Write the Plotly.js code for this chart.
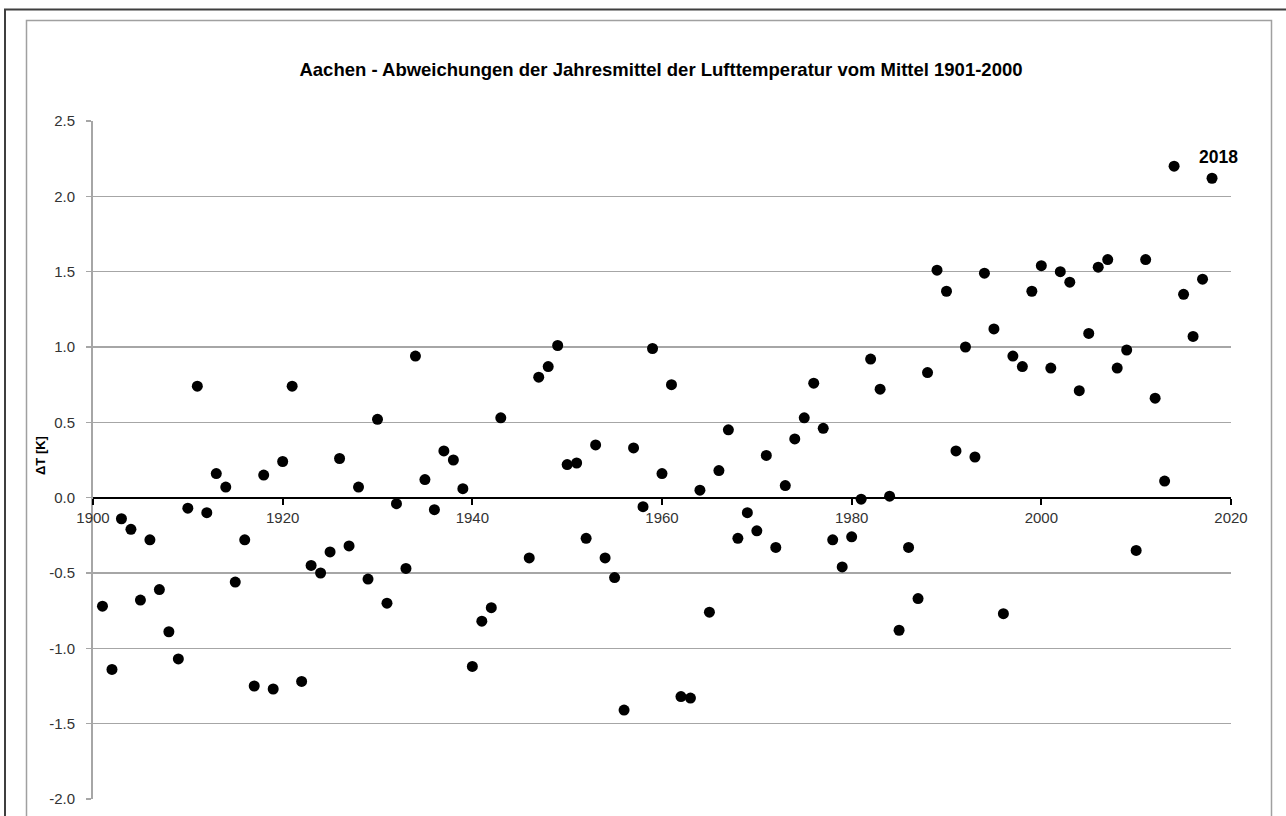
<!DOCTYPE html>
<html>
<head>
<meta charset="utf-8">
<script src="https://cdn.plot.ly/plotly-3.0.1.min.js"></script>
<style>
html,body{margin:0;padding:0;background:#fff;}
#chart{width:1286px;height:816px;}
</style>
</head>
<body>
<div id="chart"></div>
<script>
var years = [1901,1902,1903,1904,1905,1906,1907,1908,1909,1910,
  1911,1912,1913,1914,1915,1916,1917,1918,1919,1920,
  1921,1922,1923,1924,1925,1926,1927,1928,1929,1930,
  1931,1932,1933,1934,1935,1936,1937,1938,1939,1940,
  1941,1942,1943,1946,1947,1948,1949,1950,
  1951,1952,1953,1954,1955,1956,1957,1958,1959,1960,
  1961,1962,1963,1964,1965,1966,1967,1968,1969,1970,
  1971,1972,1973,1974,1975,1976,1977,1978,1979,1980,
  1981,1982,1983,1984,1985,1986,1987,1988,1989,1990,
  1991,1992,1993,1994,1995,1996,1997,1998,1999,2000,
  2001,2002,2003,2004,2005,2006,2007,2008,2009,2010,
  2011,2012,2013,2014,2015,2016,2017,2018];
var deltaT = [-0.72,-1.14,-0.14,-0.21,-0.68,-0.28,-0.61,-0.89,-1.07,-0.07,
  0.74,-0.10,0.16,0.07,-0.56,-0.28,-1.25,0.15,-1.27,0.24,
  0.74,-1.22,-0.45,-0.50,-0.36,0.26,-0.32,0.07,-0.54,0.52,
  -0.70,-0.04,-0.47,0.94,0.12,-0.08,0.31,0.25,0.06,-1.12,
  -0.82,-0.73,0.53,-0.40,0.80,0.87,1.01,0.22,
  0.23,-0.27,0.35,-0.40,-0.53,-1.41,0.33,-0.06,0.99,0.16,
  0.75,-1.32,-1.33,0.05,-0.76,0.18,0.45,-0.27,-0.10,-0.22,
  0.28,-0.33,0.08,0.39,0.53,0.76,0.46,-0.28,-0.46,-0.26,
  -0.01,0.92,0.72,0.01,-0.88,-0.33,-0.67,0.83,1.51,1.37,
  0.31,1.00,0.27,1.49,1.12,-0.77,0.94,0.87,1.37,1.54,
  0.86,1.50,1.43,0.71,1.09,1.53,1.58,0.86,0.98,-0.35,
  1.58,0.66,0.11,2.20,1.35,1.07,1.45,2.12];
var xTickVals = [1900, 1920, 1940, 1960, 1980, 2000, 2020];
var xTickLabels = ["1900", "1920", "1940", "1960", "1980", "2000", "2020"];
var yTickVals = [-2.0, -1.5, -1.0, -0.5, 0.0, 0.5, 1.0, 1.5, 2.0, 2.5];
var yTickLabels = ["-2.0", "-1.5", "-1.0", "-0.5", "0.0", "0.5", "1.0", "1.5", "2.0", "2.5"];
var labelYear = 2018;
var labelValue = deltaT[years.indexOf(labelYear)];
var titleText = "Aachen - Abweichungen der Jahresmittel der Lufttemperatur vom Mittel 1901-2000";
var yTitleText = "ΔT [K]";

var yMin = -2.0, yMax = 2.5;
var zeroPos = (0 - yMin) / (yMax - yMin);

var trace = {
  x: years, y: deltaT, type: 'scatter', mode: 'markers',
  marker: {size: 11, color: '#000000', line: {width: 0}},
  hoverinfo: 'x+y', showlegend: false
};

// plot area geometry (pixels) for frame shapes
var L = 93, R = 1231, T = 120.7, B = 799.3;
function px(x){ return (x - L) / (R - L); }
function py(y){ return (B - y) / (B - T); }

var tickFont = {family: 'Liberation Sans, Arial, sans-serif', size: 15, color: '#333333'};

var layout = {
  width: 1286, height: 816,
  margin: {l: 93, r: 1286 - 1231, t: 121, b: 17, pad: 0},
  paper_bgcolor: '#ffffff', plot_bgcolor: '#ffffff',
  showlegend: false,
  title: {
    text: '<b>' + titleText + '</b>',
    font: {family: 'Liberation Sans, Arial, sans-serif', size: 18.5, color: '#000000'},
    x: 661 / 1286, xanchor: 'center', xref: 'container',
    y: 1 - 70 / 816, yanchor: 'middle', yref: 'container'
  },
  xaxis: {
    range: [1900, 2020], tickmode: 'array', tickvals: xTickVals, ticktext: xTickLabels,
    anchor: 'free', position: zeroPos,
    showline: true, linecolor: '#000000', linewidth: 2,
    ticks: 'outside', ticklen: 6, tickwidth: 2, tickcolor: '#000000',
    showgrid: false, zeroline: false,
    tickfont: tickFont,
    fixedrange: true
  },
  yaxis: {
    range: [yMin, yMax], tickmode: 'array', tickvals: yTickVals, ticktext: yTickLabels,
    showline: true, linecolor: '#a6a6a6', linewidth: 2,
    ticks: 'outside', ticklen: 5, tickwidth: 1.5, tickcolor: '#a6a6a6',
    showgrid: true, gridcolor: '#a6a6a6', gridwidth: 1.5,
    zeroline: false,
    tickfont: tickFont,
    ticklabelstandoff: 8,
    fixedrange: true
  },
  annotations: [
    {
      x: labelYear, y: labelValue, xref: 'x', yref: 'y',
      text: '<b>' + labelYear + '</b>', showarrow: false,
      xanchor: 'center', yanchor: 'middle', xshift: 6, yshift: 21.5,
      font: {family: 'Liberation Sans, Arial, sans-serif', size: 17.5, color: '#000000'}
    },
    {
      x: px(40), y: py(456), xref: 'paper', yref: 'paper',
      text: '<b>' + yTitleText + '</b>', showarrow: false, textangle: -90,
      xanchor: 'center', yanchor: 'middle',
      font: {family: 'Liberation Sans, Arial, sans-serif', size: 13, color: '#000000'}
    }
  ],
  shapes: [
    {type: 'rect', xref: 'paper', yref: 'paper',
     x0: px(5), x1: px(1300), y0: py(830), y1: py(9),
     line: {color: '#3f3f3f', width: 2}, fillcolor: 'rgba(0,0,0,0)', layer: 'below'},
    {type: 'rect', xref: 'paper', yref: 'paper',
     x0: px(26.5), x1: px(1271.5), y0: py(830), y1: py(20),
     line: {color: '#a0a0a0', width: 1.5}, fillcolor: 'rgba(0,0,0,0)', layer: 'below'}
  ]
};

Plotly.newPlot('chart', [trace], layout, {displayModeBar: false, staticPlot: true});
</script>
</body>
</html>
